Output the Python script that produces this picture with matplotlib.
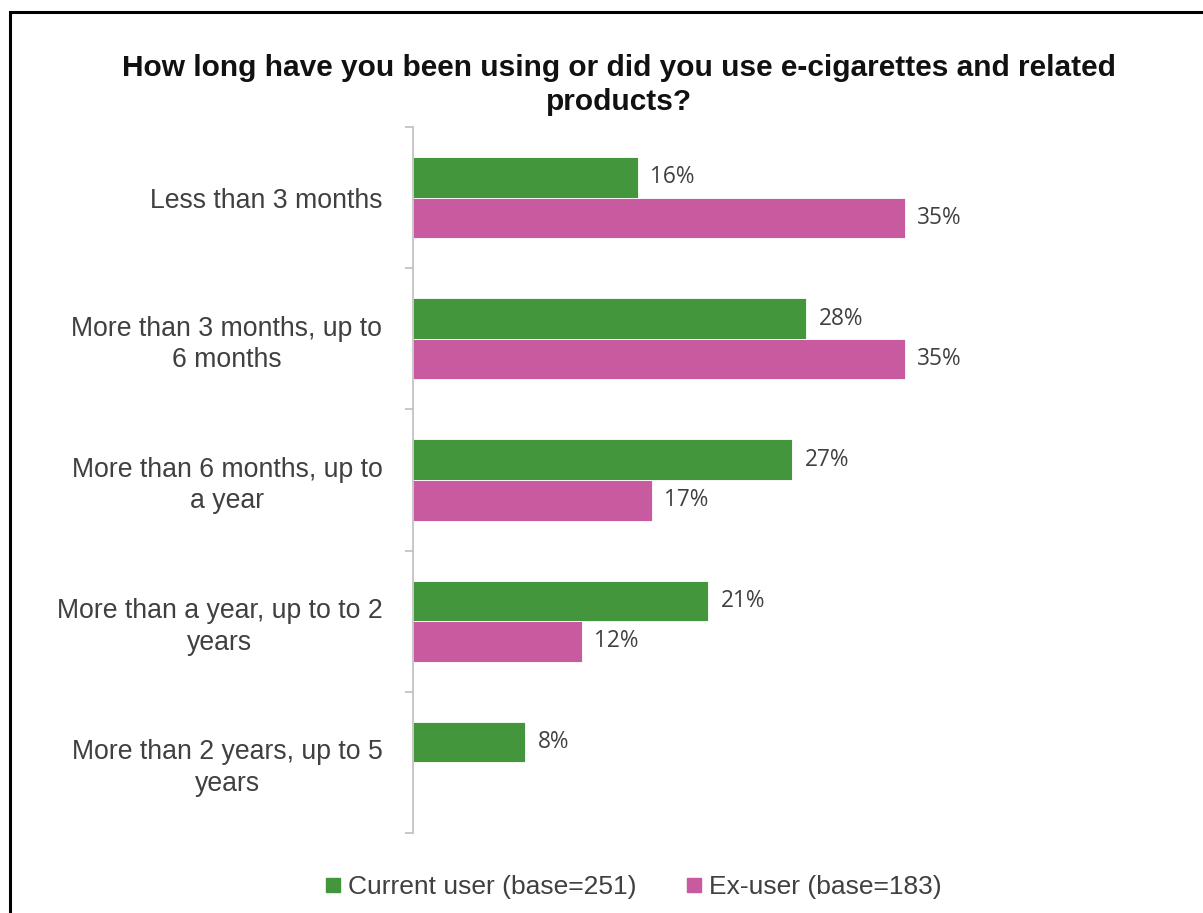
import matplotlib
matplotlib.use("Agg")
import matplotlib.pyplot as plt
from matplotlib.patches import Rectangle
from matplotlib.lines import Line2D

categories = [
    "Less than 3 months",
    "More than 3 months, up to\n6 months",
    "More than 6 months, up to\na year",
    "More than a year, up to to 2\nyears",
    "More than 2 years, up to 5\nyears",
]
current_user = [16, 28, 27, 21, 8]
ex_user = [35, 35, 17, 12, None]
series_names = ["Current user (base=251)", "Ex-user (base=183)"]

green = "#43963B"
pink = "#C85AA0"
grey_text = "#404040"

fig = plt.figure(figsize=(12.03, 9.13), dpi=100)
ax = fig.add_axes([413 / 1203, 1 - 833 / 913, (975 - 413) / 1203, (833 - 127) / 913])

bar_h = 0.287
ypos = list(range(len(categories)))
for i, y in enumerate(ypos):
    v = current_user[i]
    ax.barh(y - bar_h / 2, v, height=bar_h, color=green, edgecolor="white", linewidth=0.6)
    ax.text(v + 0.9, y - bar_h / 2, f"{v}%", va="center", ha="left",
            fontsize=16.3, family="Open Sans", color=grey_text)
    v = ex_user[i]
    if v is not None:
        ax.barh(y + bar_h / 2, v, height=bar_h, color=pink, edgecolor="white", linewidth=0.6)
        ax.text(v + 0.9, y + bar_h / 2, f"{v}%", va="center", ha="left",
                fontsize=16.3, family="Open Sans", color=grey_text)

ax.set_xlim(0, 40)
ax.set_ylim(len(categories) - 0.5, -0.5)

# category labels in the middle of each band, tick marks on the band edges
ax.set_yticks(ypos)
ax.set_yticklabels(categories, fontsize=19.2, family="Liberation Sans",
                   color=grey_text, linespacing=1.27, multialignment="center")
ax.tick_params(axis="y", which="major", length=0, pad=22)
ax.set_yticks([y - 0.5 for y in range(len(categories) + 1)], minor=True)
ax.tick_params(axis="y", which="minor", length=6, width=1.2, color="#BFBFBF", direction="out")
ax.set_xticks([])

for side in ["top", "right", "bottom"]:
    ax.spines[side].set_visible(False)
ax.spines["left"].set_color("#BFBFBF")
ax.spines["left"].set_linewidth(1.2)

fig.text(619 / 1203, 1 - 85 / 913,
         "How long have you been using or did you use e-cigarettes and related\nproducts?",
         ha="center", va="center", fontsize=21.5, fontweight="bold",
         family="Liberation Sans", color="#111111", linespacing=1.27)

handles = [
    Line2D([], [], marker="s", linestyle="none", markersize=9.5, color=green),
    Line2D([], [], marker="s", linestyle="none", markersize=9.5, color=pink),
]
fig.legend(handles, series_names, loc="center", bbox_to_anchor=(634 / 1203, 1 - 887 / 913),
           ncol=2, frameon=False, handlelength=0.5, handletextpad=0.35, columnspacing=1.9,
           prop={"family": "Liberation Sans", "size": 19}, labelcolor=grey_text)

# outer frame, bottom edge falls below the canvas
fig.patches.append(Rectangle((9.5 / 1203, -0.1), 1.2, 1 - 12.5 / 913 + 0.1,
                             transform=fig.transFigure, fill=False,
                             edgecolor="black", linewidth=2.2))

fig.savefig("out.png", dpi=100, facecolor="white")
